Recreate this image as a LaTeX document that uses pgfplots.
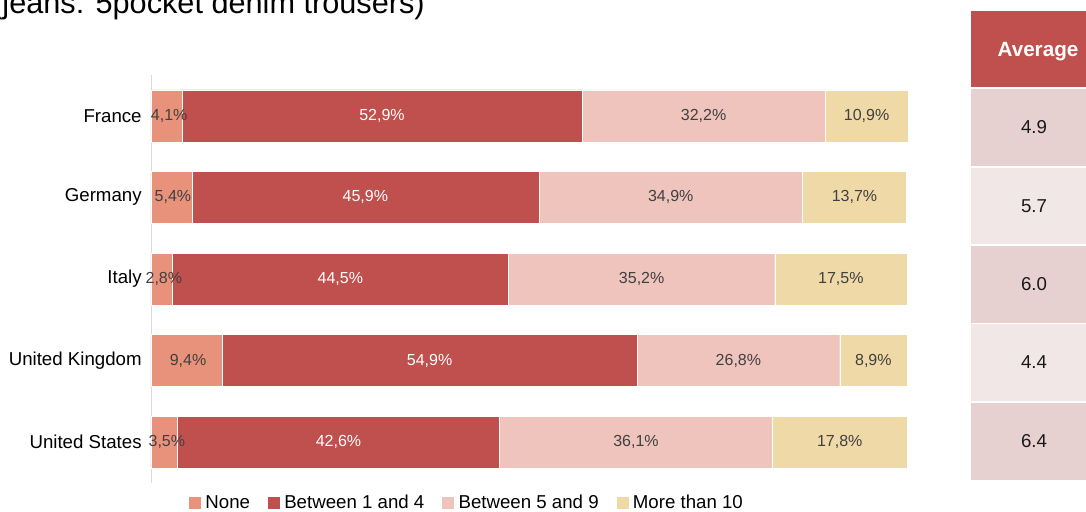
\documentclass[border=0pt]{standalone}
\usepackage{fontspec}
\setmainfont{Liberation Sans}
\usepackage{pgfplots}
\pgfplotsset{compat=1.18}
\definecolor{cNone}{HTML}{E8917B}
\definecolor{cOne}{HTML}{C0504D}
\definecolor{cFive}{HTML}{EEC4BD}
\definecolor{cTen}{HTML}{EFD9A7}
\definecolor{rowA}{HTML}{E7D0D0}
\definecolor{rowB}{HTML}{F2E7E7}
\definecolor{lbl}{HTML}{404040}
\begin{document}
\begin{tikzpicture}[x=0.75pt,y=0.75pt]
\useasboundingbox (0,0) rectangle (1086,511);
\node[anchor=base west, inner sep=0, font=\fontsize{23}{26}\selectfont] at (-8,497) {(jeans: 5pocket denim trousers)};

\begin{axis}[
  at={(113.25pt,21pt)}, anchor=south west,
  scale only axis, width=567pt, height=306pt,
  xbar stacked, bar width=39pt,
  xmin=0, xmax=100, ymin=-0.5, ymax=4.5, y dir=reverse,
  ytick={0,1,2,3,4},
  yticklabels={France,Germany,Italy,United Kingdom,United States},
  yticklabel style={font=\fontsize{14}{16}\selectfont, text=black, xshift=-3.5pt},
  hide x axis, axis y line*=left,
  y axis line style={draw=black!15, -},
  major tick length=0pt,
  clip=false,
  legend columns=4,
  legend style={at={(0.4185,-0.049)}, anchor=center, draw=none, fill=none,
    font=\fontsize{14}{16}\selectfont, inner sep=0pt,
    /tikz/every even column/.append style={column sep=11.5pt}},
  legend image code/.code={\fill[#1,draw=none] (0pt,-4.5pt) rectangle (9pt,4.5pt); \path (10pt,0pt);},
]
\addplot[fill=cNone, draw=white, line width=0.3pt] coordinates {(4.1,0) (5.4,1) (2.8,2) (9.4,3) (3.5,4)};
\addplot[fill=cOne, draw=white, line width=0.3pt] coordinates {(52.9,0) (45.9,1) (44.5,2) (54.9,3) (42.6,4)};
\addplot[fill=cFive, draw=white, line width=0.3pt] coordinates {(32.2,0) (34.9,1) (35.2,2) (26.8,3) (36.1,4)};
\addplot[fill=cTen, draw=white, line width=0.3pt] coordinates {(10.9,0) (13.7,1) (17.5,2) (8.9,3) (17.8,4)};
\legend{None,Between 1 and 4,Between 5 and 9,More than 10}
\end{axis}

\begin{axis}[
  at={(113.25pt,21pt)}, anchor=south west,
  scale only axis, width=567pt, height=306pt,
  xmin=0, xmax=100, ymin=-0.5, ymax=4.5, y dir=reverse,
  hide axis, clip=false,
  point meta=explicit,
  nodes near coords={\pgfmathprintnumber[assume math mode=true, fixed, fixed zerofill, precision=1, use comma]{\pgfplotspointmeta}\%},
  every node near coord/.append style={anchor=center, font=\fontsize{12}{14}\selectfont},
]
\addplot[draw=none, mark=none, every node near coord/.append style={text=lbl}] coordinates {
(2.4,0) [4.1] (73.1,0) [32.2] (94.65,0) [10.9]
(2.9,1) [5.4] (68.75,1) [34.9] (93.05,1) [13.7]
(1.7,2) [2.8] (64.9,2) [35.2] (91.25,2) [17.5]
(4.9,3) [9.4] (77.7,3) [26.8] (95.55,3) [8.9]
(2.1,4) [3.5] (64.15,4) [36.1] (91.1,4) [17.8]
};
\addplot[draw=none, mark=none, every node near coord/.append style={text=white}] coordinates {
(30.55,0) [52.9] (28.35,1) [45.9] (25.05,2) [44.5] (36.85,3) [54.9] (24.8,4) [42.6]
};
\end{axis}

% Average table
\fill[cOne] (971,424) rectangle (1090,500);
\fill[rowA] (971,345) rectangle (1090,422);
\fill[rowB] (971,267) rectangle (1090,343);
\fill[rowA] (971,188) rectangle (1090,265);
\fill[rowB] (971,110) rectangle (1090,187);
\fill[rowA] (971,31) rectangle (1090,108);
\node[font=\bfseries\fontsize{15.5}{18}\selectfont, text=white] at (1038,459) {Average};
\begin{scope}[every node/.style={font=\fontsize{14}{16}\selectfont, text=black!90}]
\node at (1034,383.5) {4.9};
\node at (1034,305) {5.7};
\node at (1034,226.5) {6.0};
\node at (1034,148.5) {4.4};
\node at (1034,69.5) {6.4};
\end{scope}
\end{tikzpicture}
\end{document}
